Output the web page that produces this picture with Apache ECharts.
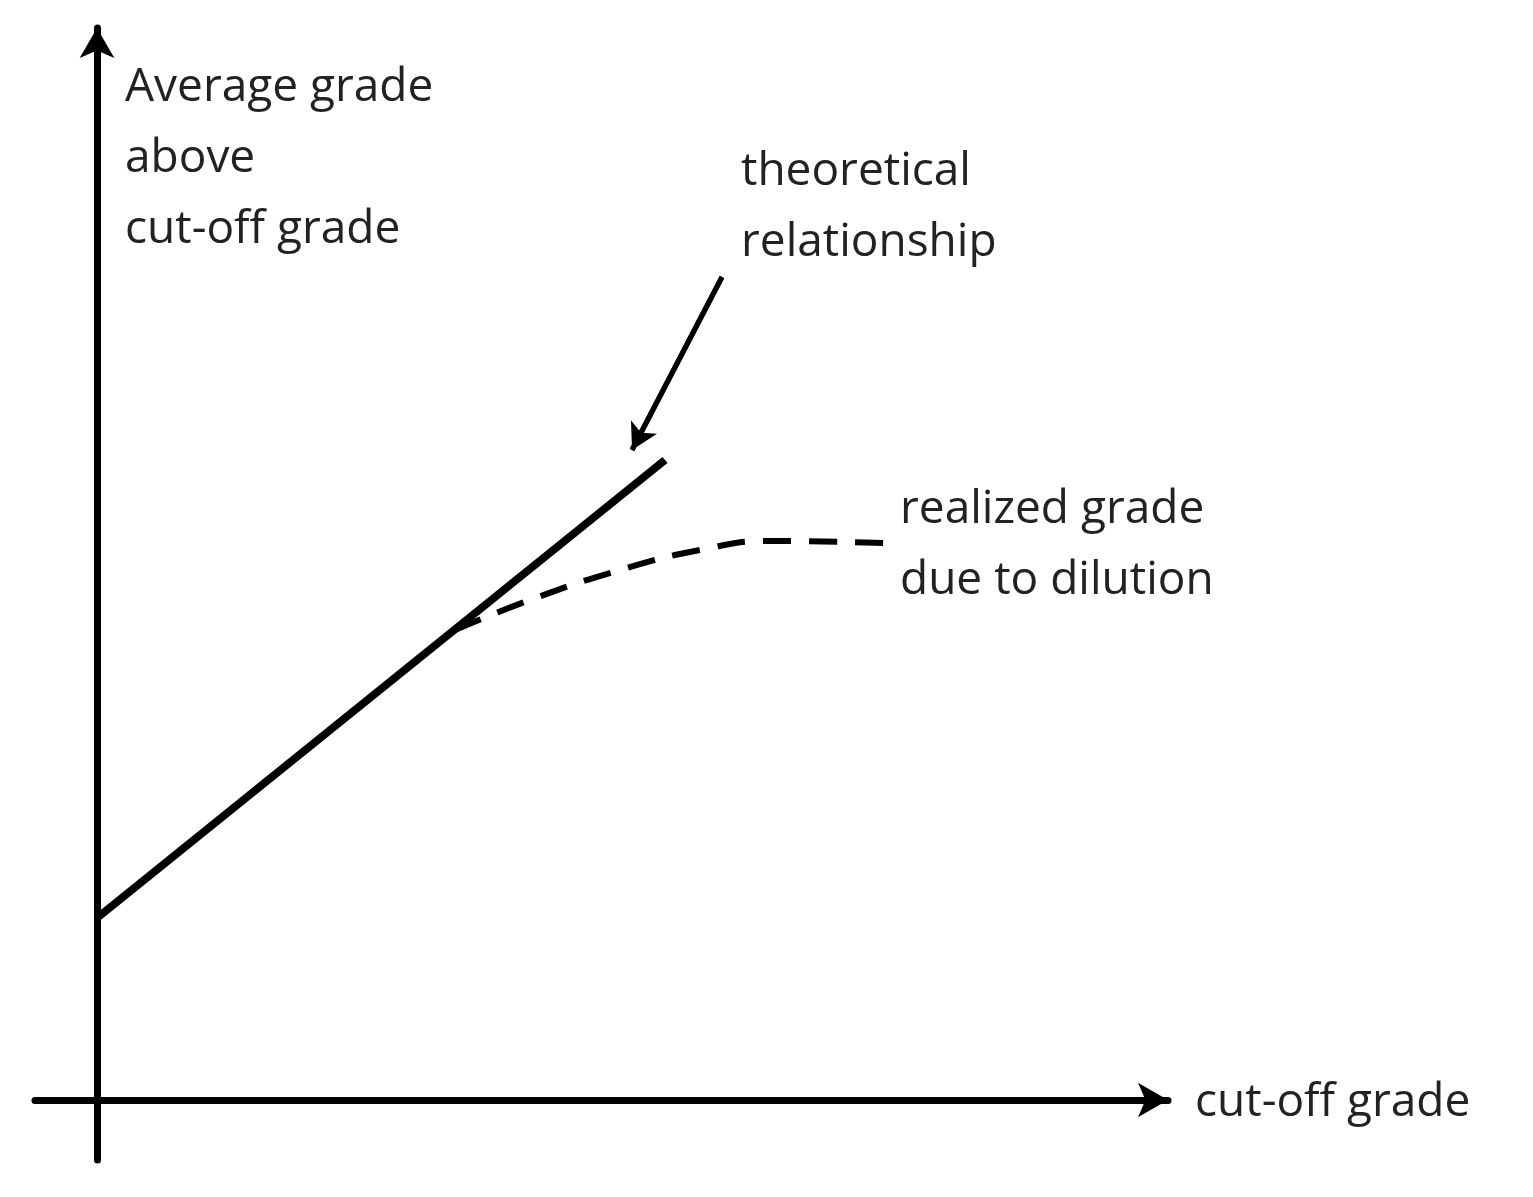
<!DOCTYPE html><html><head><meta charset="utf-8">
<script src="https://cdn.jsdelivr.net/npm/echarts@6/dist/echarts.min.js"></script>
<style>html,body{margin:0;background:#fff}#c{width:1533px;height:1197px}</style></head><body><div id="c"></div>
<script>
const theoretical = [[0,182],[568,640]];
const realized = [[358,470],[433,500],[523,530],[603,550],[673,559],[788,557]];
const pointer = [[625,823],[535,650]];
const yLabel = ['Average grade','above','cut-off grade'];
const xLabel = 'cut-off grade';
const theoLabel = ['theoretical','relationship'];
const realLabel = ['realized grade','due to dilution'];
const F = '"Open Sans", sans-serif';
const txt = (lines,x,y)=>({type:'text',left:x,top:y,style:{text:lines.join('\n'),font:'46px '+F,fill:'#222',lineHeight:71}});
const chart = echarts.init(document.getElementById('c'));
chart.setOption({
  animation:false,
  grid:{left:35,right:1533-1168,top:28,bottom:1197-1160},
  xAxis:{type:'value',min:-62,max:1071,axisLine:{onZero:true,lineStyle:{color:'#000',width:7},symbol:['none','arrow'],symbolSize:[26,30]},axisTick:{show:false},axisLabel:{show:false},splitLine:{show:false}},
  yAxis:{type:'value',min:-60,max:1072,axisLine:{onZero:true,lineStyle:{color:'#000',width:7},symbol:['none','arrow'],symbolSize:[26,30]},axisTick:{show:false},axisLabel:{show:false},splitLine:{show:false}},
  series:[
    {type:'line',data:theoretical,symbol:'none',lineStyle:{color:'#000',width:8}},
    {type:'line',data:realized,smooth:true,symbol:'none',lineStyle:{color:'#000',width:6,type:[28,18]}},
    {type:'line',data:pointer,symbol:'none',lineStyle:{color:'#000',width:5},
      markLine:{silent:true,symbol:['none','arrow'],symbolSize:[22,26],label:{show:false},lineStyle:{color:'#000',width:5,type:'solid'},data:[[{coord:pointer[0]},{coord:pointer[1]}]]}}
  ],
  graphic:[txt(yLabel,125,52),txt([xLabel],1195,1067),txt(theoLabel,741,136),txt(realLabel,900,474)]
});
</script></body></html>
